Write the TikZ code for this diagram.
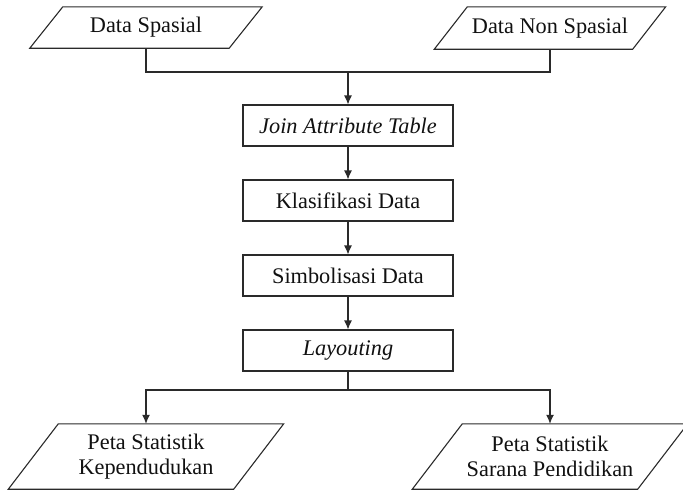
\documentclass[tikz,border=0pt]{standalone}
\usepackage{fontspec}
\setmainfont{Liberation Serif}
\usetikzlibrary{arrows.meta}
\definecolor{linec}{HTML}{2A2A2A}
\definecolor{textc}{HTML}{111111}
\tikzset{
  flow/.style={draw=linec, line width=1.1pt},
  arr/.style={flow, -{Latex[length=9pt,width=8pt]}},
  labelfont/.style={font=\fontsize{22.3}{25.5}\selectfont, text=textc},
  procbox/.style={flow, labelfont, minimum width=210pt, minimum height=41pt, inner sep=0pt},
  iobox/.style={labelfont, align=center, inner sep=0pt},
}
% parallelogram drawn around a named node: #1 node, #2 half slant
\newcommand{\ioshape}[2]{%
  \draw[flow, line join=miter] ([xshift=#2]#1.north west) -- ([xshift=#2]#1.north east)
    -- ([xshift=-#2]#1.south east) -- ([xshift=-#2]#1.south west) -- cycle;}
\begin{document}
\begin{tikzpicture}[x=1pt, y=-1pt]
  \useasboundingbox (0,0) rectangle (683,490);

  % inputs
  \node[iobox, minimum width=199pt, minimum height=41pt] (ds) at (146,27.5) {Data Spasial};
  \node[iobox, minimum width=198pt, minimum height=42pt] (dns) at (550,28) {Data Non Spasial};
  \ioshape{ds}{16.5pt}
  \ioshape{dns}{16.5pt}

  % processing steps
  \node[procbox] (jat) at (348,125.5) {\itshape Join Attribute Table};
  \node[procbox] (kd)  at (348,200.5) {Klasifikasi Data};
  \node[procbox] (sd)  at (348,275.5) {Simbolisasi Data};
  \node[procbox] (lay) at (348,350.5) {\itshape Layouting};

  % outputs
  \node[iobox, minimum width=225pt, minimum height=65pt] (pk) at (146,456.5)
    {Peta Statistik\\Kependudukan};
  \node[iobox, minimum width=225pt, minimum height=65pt] (psp) at (550,456.5)
    {Peta Statistik\\Sarana Pendidikan};
  \ioshape{pk}{25pt}
  \ioshape{psp}{25pt}

  % connectors
  \coordinate (jtop) at (348,72);
  \coordinate (jbot) at (348,390);
  \draw[flow] (ds.south) |- (jtop);
  \draw[flow] (dns.south) |- (jtop);
  \draw[arr] (jtop) -- (jat.north);
  \draw[arr] (jat) -- (kd);
  \draw[arr] (kd) -- (sd);
  \draw[arr] (sd) -- (lay);
  \draw[flow] (lay.south) -- (jbot);
  \draw[arr] (jbot) -| (pk.north);
  \draw[arr] (jbot) -| (psp.north);
\end{tikzpicture}
\end{document}
